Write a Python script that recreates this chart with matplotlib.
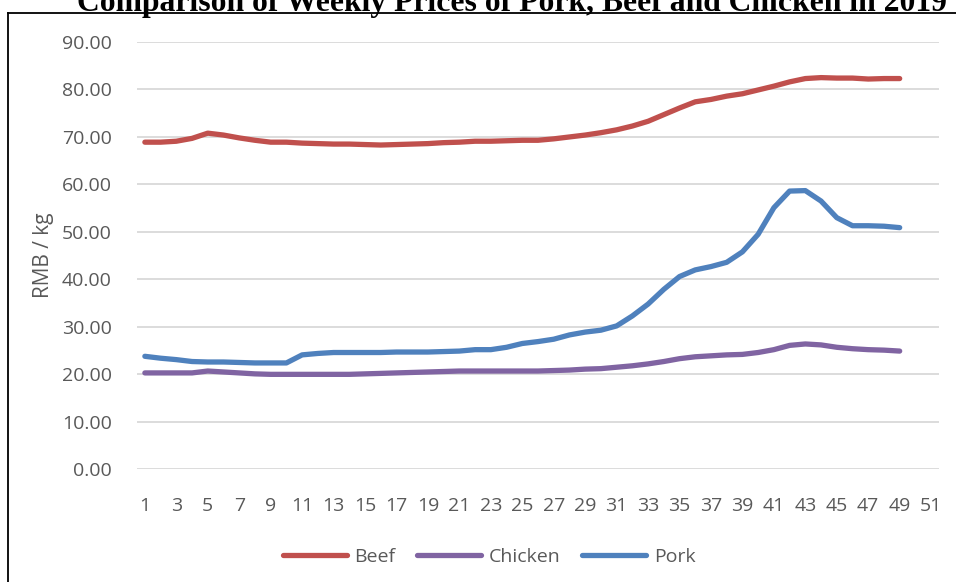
import matplotlib
matplotlib.use('Agg')
import matplotlib.pyplot as plt
from matplotlib.lines import Line2D

# ==============================
# Weekly prices 2019 (RMB / kg)
# ==============================
weeks = list(range(1, 50))

beef = [68.9, 68.9, 69.1, 69.7, 70.8, 70.4, 69.8, 69.3, 68.9, 68.9,
        68.7, 68.6, 68.5, 68.5, 68.4, 68.3, 68.4, 68.5, 68.6, 68.8,
        68.9, 69.1, 69.1, 69.2, 69.3, 69.3, 69.6, 70.0, 70.4, 70.9,
        71.5, 72.3, 73.3, 74.7, 76.1, 77.4, 77.9, 78.6, 79.1, 79.9,
        80.7, 81.6, 82.3, 82.5, 82.4, 82.4, 82.2, 82.3, 82.3]

chicken = [20.3, 20.3, 20.3, 20.3, 20.7, 20.5, 20.3, 20.1, 20.0, 20.0,
           20.0, 20.0, 20.0, 20.0, 20.1, 20.2, 20.3, 20.4, 20.5, 20.6,
           20.7, 20.7, 20.7, 20.7, 20.7, 20.7, 20.8, 20.9, 21.1, 21.2,
           21.5, 21.8, 22.2, 22.7, 23.3, 23.7, 23.9, 24.1, 24.2, 24.6,
           25.2, 26.1, 26.4, 26.2, 25.7, 25.4, 25.2, 25.1, 24.9]

pork = [23.8, 23.4, 23.1, 22.7, 22.6, 22.6, 22.5, 22.4, 22.4, 22.4,
        24.1, 24.4, 24.6, 24.6, 24.6, 24.6, 24.7, 24.7, 24.7, 24.8,
        24.9, 25.2, 25.2, 25.7, 26.5, 26.9, 27.4, 28.3, 28.9, 29.3,
        30.2, 32.3, 34.8, 37.9, 40.6, 42.0, 42.7, 43.6, 45.8, 49.5,
        55.1, 58.6, 58.7, 56.5, 53.0, 51.3, 51.3, 51.2, 50.9]

series = [('Beef', beef, '#C0504D'),
          ('Chicken', chicken, '#8064A2'),
          ('Pork', pork, '#4F81BD')]

x_ticks = list(range(1, 52, 2))
y_ticks = list(range(0, 91, 10))

# ==============================
# Figure
# ==============================
plt.rcParams['font.family'] = ['Open Sans', 'DejaVu Sans']

fig = plt.figure(figsize=(9.56, 5.82), dpi=100)
ax = fig.add_axes([137 / 956, 1 - 469.3 / 582, 802 / 956, 427.3 / 582])

for name, vals, col in series:
    ax.plot(weeks, vals, color=col, lw=3.8, solid_capstyle='round',
            solid_joinstyle='round', label=name)

ax.set_xlim(0.5, 51.5)
ax.set_ylim(0, 90)
ax.set_xticks(x_ticks)
ax.set_yticks(y_ticks)
ax.set_yticklabels([f'{v:.2f}' for v in y_ticks])
ax.tick_params(length=0, labelsize=14, labelcolor='#595959')
ax.tick_params(axis='x', pad=20)
ax.tick_params(axis='y', pad=18)
ax.grid(axis='y', color='#D9D9D9', lw=1.3)
ax.set_axisbelow(True)
for s in ax.spines.values():
    s.set_visible(False)

ax.set_ylabel('RMB / kg', fontsize=15, color='#595959', labelpad=6)

ax.legend(loc='center', bbox_to_anchor=(489 / 956, 1 - 557 / 582),
          bbox_transform=fig.transFigure, ncol=3, frameon=False,
          fontsize=14, handlelength=3.3, handletextpad=0.4,
          columnspacing=1.1, labelcolor='#595959')

fig.text(512 / 956, 1 - 11 / 582,
         'Comparison of Weekly Prices of Pork, Beef and Chicken in 2019',
         ha='center', va='baseline', fontsize=22.8, fontweight='bold',
         family='Liberation Serif')

# outer frame (left and top edges only visible)
fig.add_artist(Line2D([7.5 / 956, 7.5 / 956], [0, 1 - 12.5 / 582],
                      transform=fig.transFigure, color='black', lw=1.3))
fig.add_artist(Line2D([7.5 / 956, 1], [1 - 12.5 / 582, 1 - 12.5 / 582],
                      transform=fig.transFigure, color='black', lw=1.3))

fig.savefig('out.png', dpi=100)
